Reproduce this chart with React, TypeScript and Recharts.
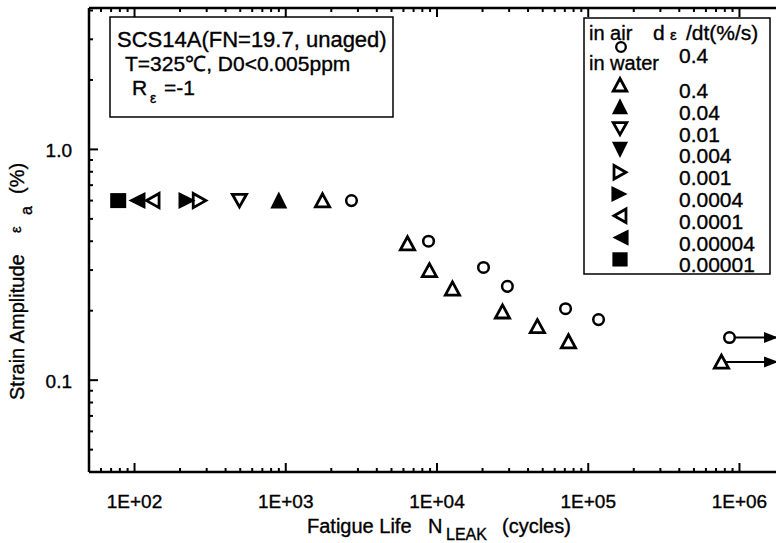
import { ScatterChart, Scatter, XAxis, YAxis } from "recharts";

const FONT = '"Liberation Sans", Arial, sans-serif';

// in air, dε/dt = 0.4 %/s
const airN = [2720, 8790, 20300, 29200, 70800, 117000, 859000];
const airStrain = [0.6, 0.4, 0.308, 0.255, 0.204, 0.183, 0.153];

// in water, one list per strain rate (%/s)
const water04N = [1750, 6380, 8910, 12650, 27100, 46100, 74000, 760000];
const water04Strain = [0.6, 0.391, 0.299, 0.249, 0.198, 0.171, 0.147, 0.12];
const water004N = [900];
const water004Strain = [0.6];
const water001N = [494];
const water001Strain = [0.6];
const water0004N: number[] = [];
const water0004Strain: number[] = [];
const water0001N = [269];
const water0001Strain = [0.6];
const water00004N = [224];
const water00004Strain = [0.6];
const water00001N = [132];
const water00001Strain = [0.6];
const water000004N = [103];
const water000004Strain = [0.6];
const water000001N = [78];
const water000001Strain = [0.6];

// run-outs (no leak), arrow from last cycle count to the right
const airRunoutN = [859000, 1.8e6];
const airRunoutStrain = [0.153, 0.153];
const waterRunoutN = [760000, 1.8e6];
const waterRunoutStrain = [0.12, 0.12];

const xMajorTicks = [1e2, 1e3, 1e4, 1e5, 1e6];
const xMajorLabels = ["1E+02", "1E+03", "1E+04", "1E+05", "1E+06"];
const yMajorTicks = [0.1, 1];
const yMajorLabels = ["0.1", "1.0"];

const rateLabels = ["0.4", "0.04", "0.01", "0.004", "0.001", "0.0004", "0.0001", "0.00004", "0.00001"];
const rateKinds = ["triUp", "triUpFill", "triDown", "triDownFill", "triRight", "triRightFill", "triLeft", "triLeftFill", "square"];

const X_DOMAIN = [50, 2e6];
const Y_DOMAIN = [0.04, 4.1];

const minorTicks = (lo: number, hi: number) => {
  const out: number[] = [];
  for (let d = Math.pow(10, Math.floor(Math.log10(lo))); d <= hi; d *= 10) {
    for (let m = 1; m <= 9; m++) {
      const v = d * m;
      if (v >= lo * 0.999 && v <= hi * 1.001) out.push(v);
    }
  }
  return out;
};
const xTicks = minorTicks(X_DOMAIN[0], X_DOMAIN[1]);
const yTicks = minorTicks(Y_DOMAIN[0], Y_DOMAIN[1]);

const isMajor = (v: number) => Math.abs(Math.log10(v) - Math.round(Math.log10(v))) < 1e-6;

const toPoints = (xs: number[], ys: number[]) => xs.map((x, i) => ({ x, y: ys[i] }));

const txt = { fontFamily: FONT, fill: "#000", stroke: "#000", strokeWidth: 0.35 };

function Marker({ kind, cx, cy, k = 1 }: { kind: string; cx: number; cy: number; k?: number }) {
  const sw = 2.8;
  const h = 6.3 * k;
  const f = 9 * k;
  const tri = (pts: number[][], fill: boolean) => (
    <polygon
      points={pts.map((p) => `${cx + p[0]},${cy + p[1]}`).join(" ")}
      fill={fill ? "#000" : "#fff"}
      stroke="#000"
      strokeWidth={fill ? 0 : sw}
    />
  );
  switch (kind) {
    case "circle":
      return <circle cx={cx} cy={cy} r={5.3 * k} fill="#fff" stroke="#000" strokeWidth={2.5} />;
    case "triUp":
      return tri([[0, -h - 0.5], [h + 0.8, h], [-h - 0.8, h]], false);
    case "triUpFill":
      return tri([[0, -f], [f - 0.5, f - 1], [-f + 0.5, f - 1]], true);
    case "triDown":
      return tri([[0, h], [h + 0.8, -h], [-h - 0.8, -h]], false);
    case "triDownFill":
      return tri([[0, f - 1], [f - 0.5, -f], [-f + 0.5, -f]], true);
    case "triRight":
      return tri([[h, 0], [-h, h + 0.8], [-h, -h - 0.8]], false);
    case "triRightFill":
      return tri([[f - 1, 0], [-f, f - 0.5], [-f, -f + 0.5]], true);
    case "triLeft":
      return tri([[-h, 0], [h, h + 0.8], [h, -h - 0.8]], false);
    case "triLeftFill":
      return tri([[-f + 1, 0], [f, f - 0.5], [f, -f + 0.5]], true);
    case "square":
      return <rect x={cx - 8 * k} y={cy - 7.5 * k} width={16 * k} height={15 * k} fill="#000" />;
    default:
      return null;
  }
}

const shapeOf = (kind: string) => (p: any) => <Marker kind={kind} cx={p.cx} cy={p.cy} />;

const arrowHead = (p: any) =>
  p.payload.x > 1e6 ? (
    <polygon points={`${p.cx},${p.cy} ${p.cx - 14},${p.cy - 5.5} ${p.cx - 14},${p.cy + 5.5}`} fill="#000" />
  ) : (
    <g />
  );

const BottomTick = (p: any) => {
  const v = p.payload.value;
  const major = isMajor(v);
  const i = xMajorTicks.findIndex((t) => Math.abs(t - v) / t < 1e-6);
  return (
    <g>
      <line x1={p.x} x2={p.x} y1={p.y} y2={p.y - (major ? 9 : 4)} stroke="#000" strokeWidth={2} />
      {major && i >= 0 && (
        <text x={p.x} y={p.y + 36} textAnchor="middle" fontSize={19} {...txt}>
          {xMajorLabels[i]}
        </text>
      )}
    </g>
  );
};

const TopTick = (p: any) => {
  const major = isMajor(p.payload.value);
  return <line x1={p.x} x2={p.x} y1={p.y} y2={p.y + (major ? 9 : 4)} stroke="#000" strokeWidth={2} />;
};

const LeftTick = (p: any) => {
  const v = p.payload.value;
  const major = isMajor(v);
  const i = yMajorTicks.findIndex((t) => Math.abs(t - v) / t < 1e-6);
  return (
    <g>
      <line x1={p.x} x2={p.x + (major ? 9 : 4)} y1={p.y} y2={p.y} stroke="#000" strokeWidth={2} />
      {major && i >= 0 && (
        <text x={p.x - 17} y={p.y + 8} textAnchor="end" fontSize={19} {...txt}>
          {yMajorLabels[i]}
        </text>
      )}
    </g>
  );
};

const waterSeries = [
  { kind: "triUp", xs: water04N, ys: water04Strain },
  { kind: "triUpFill", xs: water004N, ys: water004Strain },
  { kind: "triDown", xs: water001N, ys: water001Strain },
  { kind: "triDownFill", xs: water0004N, ys: water0004Strain },
  { kind: "triRight", xs: water0001N, ys: water0001Strain },
  { kind: "triRightFill", xs: water00004N, ys: water00004Strain },
  { kind: "triLeft", xs: water00001N, ys: water00001Strain },
  { kind: "triLeftFill", xs: water000004N, ys: water000004Strain },
  { kind: "square", xs: water000001N, ys: water000001Strain },
];

function Overlay() {
  const rowY = (i: number) => 85 + i * 21.8;
  return (
    <svg width={776} height={543} style={{ position: "absolute", left: 0, top: 0, pointerEvents: "none" }}>
      {/* condition box */}
      <rect x={110} y={17} width={283} height={100} fill="#fff" stroke="#000" strokeWidth={1.5} />
      <text x={117} y={47} fontSize={22} {...txt}>SCS14A(FN=19.7, unaged)</text>
      <text x={125} y={71} fontSize={21} {...txt}>T=325℃, D0&lt;0.005ppm</text>
      <text x={132} y={95} fontSize={21} {...txt}>R</text>
      <text x={150} y={103} fontSize={14} {...txt}>ε</text>
      <text x={164} y={95} fontSize={21} {...txt}>=-1</text>

      {/* legend */}
      <rect x={584} y={18} width={186} height={256} fill="#fff" stroke="#000" strokeWidth={1.5} />
      <text x={589} y={40} fontSize={20} {...txt}>in air</text>
      <text x={653} y={40} fontSize={21} {...txt}>d</text>
      <text x={670} y={40} fontSize={15} {...txt}>ε</text>
      <text x={686} y={40} fontSize={21} {...txt}>/dt(%/s)</text>
      <circle cx={621} cy={47} r={4.8} fill="#fff" stroke="#000" strokeWidth={2.3} />
      <text x={589} y={70} fontSize={20} {...txt}>in water</text>
      <text x={679} y={63} fontSize={21} {...txt}>0.4</text>
      {rateLabels.map((lab, i) => (
        <g key={lab}>
          <Marker kind={rateKinds[i]} cx={620} cy={rowY(i)} k={0.95} />
          <text x={679} y={rowY(i) + 13} fontSize={21} {...txt}>{lab}</text>
        </g>
      ))}

      {/* axis titles */}
      <text x={307} y={533} fontSize={20} {...txt}>Fatigue Life</text>
      <text x={428} y={533} fontSize={20} {...txt}>N</text>
      <text x={446} y={540} fontSize={16} {...txt}>LEAK</text>
      <text x={502} y={533} fontSize={20} {...txt}>(cycles)</text>

      <text transform="rotate(-90 24 400)" x={24} y={400} fontSize={20} {...txt}>Strain Amplitude</text>
      <text transform="rotate(-90 21 233)" x={21} y={233} fontSize={15} {...txt}>ε</text>
      <text transform="rotate(-90 32 215)" x={32} y={215} fontSize={16} {...txt}>a</text>
      <text transform="rotate(-90 24 194)" x={24} y={194} fontSize={20} {...txt}>(%)</text>
    </svg>
  );
}

export default function App() {
  return (
    <div style={{ position: "absolute", left: 0, top: 0, width: 776, height: 543, overflow: "hidden", background: "#fff" }}>
      <ScatterChart width={800} height={543} margin={{ top: 0, right: 15, bottom: 0, left: 0 }}>
        <XAxis
          xAxisId="top"
          orientation="top"
          type="number"
          dataKey="x"
          scale="log"
          domain={X_DOMAIN}
          allowDataOverflow
          ticks={xTicks}
          interval={0}
          height={8}
          tickSize={0}
          tickMargin={0}
          tick={TopTick}
          axisLine={{ stroke: "#000", strokeWidth: 2.5 }}
        />
        <XAxis
          xAxisId="main"
          orientation="bottom"
          type="number"
          dataKey="x"
          scale="log"
          domain={X_DOMAIN}
          allowDataOverflow
          ticks={xTicks}
          interval={0}
          height={71}
          tickSize={0}
          tickMargin={0}
          tick={BottomTick}
          axisLine={{ stroke: "#000", strokeWidth: 2.5 }}
        />
        <YAxis
          yAxisId="main"
          type="number"
          dataKey="y"
          scale="log"
          domain={Y_DOMAIN}
          allowDataOverflow
          ticks={yTicks}
          interval={0}
          width={89}
          tickSize={0}
          tickMargin={0}
          tick={LeftTick}
          axisLine={{ stroke: "#000", strokeWidth: 2.5 }}
        />
        <Scatter
          xAxisId="main"
          yAxisId="main"
          data={toPoints(airRunoutN, airRunoutStrain)}
          line={{ stroke: "#000", strokeWidth: 2 }}
          shape={arrowHead}
          isAnimationActive={false}
        />
        <Scatter
          xAxisId="main"
          yAxisId="main"
          data={toPoints(waterRunoutN, waterRunoutStrain)}
          line={{ stroke: "#000", strokeWidth: 2 }}
          shape={arrowHead}
          isAnimationActive={false}
        />
        <Scatter
          xAxisId="main"
          yAxisId="main"
          data={toPoints(airN, airStrain)}
          shape={shapeOf("circle")}
          isAnimationActive={false}
        />
        {waterSeries.map((s) => (
          <Scatter
            key={s.kind}
            xAxisId="main"
            yAxisId="main"
            data={toPoints(s.xs, s.ys)}
            shape={shapeOf(s.kind)}
            isAnimationActive={false}
          />
        ))}
      </ScatterChart>
      <Overlay />
    </div>
  );
}
